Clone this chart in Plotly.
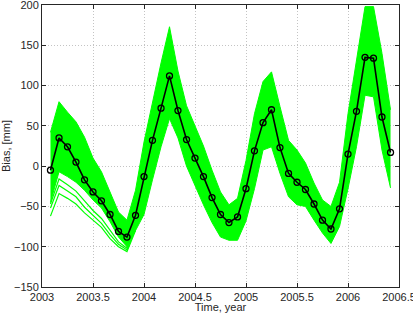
import plotly.graph_objects as go

# Time axis (monthly samples, decimal years)
time = [2003.083, 2003.167, 2003.25, 2003.333, 2003.417, 2003.5, 2003.583, 2003.667,
        2003.75, 2003.833, 2003.917, 2004.0, 2004.083, 2004.167, 2004.25, 2004.333,
        2004.417, 2004.5, 2004.583, 2004.667, 2004.75, 2004.833, 2004.917, 2005.0,
        2005.083, 2005.167, 2005.25, 2005.333, 2005.417, 2005.5, 2005.583, 2005.667,
        2005.75, 2005.833, 2005.917, 2006.0, 2006.083, 2006.167, 2006.25, 2006.333,
        2006.417]

# Mean bias (black line with circles), mm
bias_mean = [-5, 35, 24, 5, -17, -32, -43, -60, -81, -88, -61, -13, 32, 72, 112, 69,
             33, 10, -13, -39, -60, -70, -63, -28, 19, 54, 70, 23, -9, -20, -29, -47,
             -67, -78, -53, 15, 68, 135, 134, 61, 17]

# Envelope of the green ensemble, mm
ens_upper = [42, 80, 67, 55, 36, 10, -7, -32, -57, -67, -30, 30,
             80, 128, 173, 118, 75, 50, 25, -5, -32, -48, -40,
             7, 65, 105, 117, 74, 32, 20, 4, -21, -42, -50, -20,
             65, 130, 198, 198, 140, 70]
ens_lower = [-45, -7, -13, -20, -30, -42, -52, -69, -88, -100, -80, -60,
             -17, 24, 59, 35, 0, -25, -48, -70, -88, -92, -92,
             -68, -28, 20, 24, -9, -38, -48, -50, -67, -83, -96, -75,
             -28, 24, 88, 86, 20, -27]

# A few separated low ensemble members in 2003
outlier_time = time[:11]
outlier_a = [-62, -34, -40, -47, -58, -67, -76, -90, -100, -106, -80]
outlier_b = [-52, -24, -31, -38, -51, -61, -71, -85, -97, -104, -78]
outlier_c = [-47, -16, -23, -31, -43, -55, -65, -79, -94, -102, -76]

x_ticks = [2003, 2003.5, 2004, 2004.5, 2005, 2005.5, 2006, 2006.5]
x_ticktext = ["2003", "2003.5", "2004", "2004.5", "2005", "2005.5", "2006", "2006.5"]
y_ticks = [-150, -100, -50, 0, 50, 100, 150, 200]

GREEN = "#00ff00"

fig = go.Figure()
fig.add_trace(go.Scatter(x=time, y=ens_upper, mode="lines",
                         line=dict(color=GREEN, width=1), showlegend=False,
                         hoverinfo="skip"))
fig.add_trace(go.Scatter(x=time, y=ens_lower, mode="lines", fill="tonexty",
                         fillcolor=GREEN, line=dict(color=GREEN, width=1),
                         showlegend=False, hoverinfo="skip"))
for ys in (outlier_a, outlier_b, outlier_c):
    fig.add_trace(go.Scatter(x=outlier_time, y=ys, mode="lines",
                             line=dict(color=GREEN, width=1.2), showlegend=False,
                             hoverinfo="skip"))
fig.add_trace(go.Scatter(x=time, y=bias_mean, mode="lines+markers",
                         line=dict(color="black", width=1.6),
                         marker=dict(symbol="circle-open", size=6, color="black",
                                     line=dict(width=1.3, color="black")),
                         showlegend=False))

axis_common = dict(
    showline=True, linecolor="#262626", linewidth=1, mirror="ticks",
    ticks="inside", ticklen=4, tickcolor="#262626",
    showgrid=True, gridcolor="#c4c4c4", griddash="1px,2px", gridwidth=1,
    zeroline=False, ticklabeloverflow="allow",
    tickfont=dict(family="Liberation Sans, Arial", size=11, color="#262626"),
)

fig.update_layout(
    width=413, height=313,
    margin=dict(l=42, r=14, t=5, b=26),
    paper_bgcolor="white", plot_bgcolor="white",
    font=dict(family="Liberation Sans, Arial", size=11, color="#262626"),
    xaxis=dict(range=[2003, 2006.5], tickvals=x_ticks, ticktext=x_ticktext,
               title=dict(text="Time, year", standoff=0,
                          font=dict(size=11)),
               automargin=False, **axis_common),
    yaxis=dict(range=[-150, 200], tickvals=y_ticks,
               title=dict(text="Bias, [mm]", standoff=2, font=dict(size=11)),
               automargin=False, **axis_common),
)

fig.write_html("out.html")
